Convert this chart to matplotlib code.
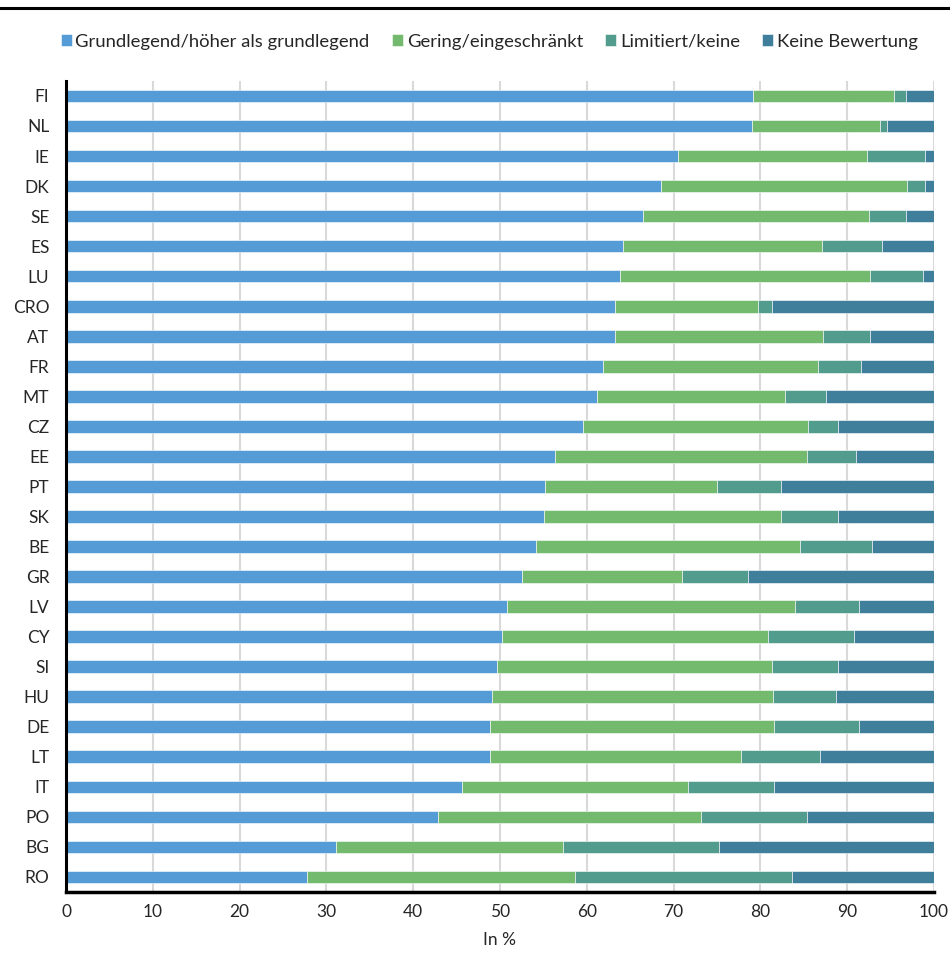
import matplotlib.pyplot as plt
from matplotlib.lines import Line2D
import numpy as np

countries = ['FI', 'NL', 'IE', 'DK', 'SE', 'ES', 'LU', 'CRO', 'AT', 'FR', 'MT', 'CZ', 'EE', 'PT',
             'SK', 'BE', 'GR', 'LV', 'CY', 'SI', 'HU', 'DE', 'LT', 'IT', 'PO', 'BG', 'RO']

grundlegend = [79.2, 79.0, 70.5, 68.6, 66.5, 64.2, 63.8, 63.3, 63.3, 61.9, 61.2, 59.6, 56.3, 55.2,
               55.1, 54.2, 52.5, 50.8, 50.2, 49.7, 49.1, 48.9, 48.8, 45.6, 42.9, 31.1, 27.8]
gering = [16.2, 14.8, 21.8, 28.3, 26.0, 22.9, 28.8, 16.4, 23.9, 24.7, 21.6, 25.9, 29.1, 19.8,
          27.3, 30.4, 18.5, 33.2, 30.7, 31.7, 32.4, 32.7, 29.0, 26.1, 30.3, 26.2, 30.8]
limitiert = [1.4, 0.8, 6.7, 2.1, 4.3, 6.9, 6.2, 1.6, 5.5, 5.0, 4.8, 3.5, 5.6, 7.4,
             6.6, 8.3, 7.6, 7.4, 9.9, 7.6, 7.2, 9.8, 9.1, 9.9, 12.2, 18.0, 25.0]
keine = [3.2, 5.4, 1.0, 1.0, 3.2, 6.0, 1.2, 18.7, 7.3, 8.4, 12.4, 11.0, 9.0, 17.6,
         11.0, 7.1, 21.4, 8.6, 9.2, 11.0, 11.3, 8.6, 13.1, 18.4, 14.6, 24.7, 16.4]

series = [
    ('Grundlegend/höher als grundlegend', grundlegend, '#559BD6'),
    ('Gering/eingeschränkt', gering, '#74BA6E'),
    ('Limitiert/keine', limitiert, '#529C8E'),
    ('Keine Bewertung', keine, '#3F7F9B'),
]

plt.rcParams['font.family'] = ['Lato', 'DejaVu Sans']

fig = plt.figure(figsize=(9.5, 9.69), dpi=100)
ax = fig.add_axes([0.0695, 0.0795, 0.9135, 0.837])

y = np.arange(len(countries))
left = np.zeros(len(countries))
for label, vals, color in series:
    vals = np.array(vals)
    ax.barh(y, vals, left=left, height=0.42, color=color, edgecolor='white',
            linewidth=0.4, label=label, zorder=3)
    left += vals

ax.set_xlim(0, 100)
ax.set_ylim(len(countries) - 0.5, -0.5)
ax.set_yticks(y)
ax.set_yticklabels(countries, fontsize=12.5, color='#262626')
ax.set_xticks(range(0, 101, 10))
ax.tick_params(axis='x', labelsize=12.5, colors='#262626', length=0, pad=9)
ax.tick_params(axis='y', length=0, pad=12)
ax.grid(axis='x', color='#D9D9D9', linewidth=1.5, zorder=0)
ax.set_axisbelow(True)

for side in ['top', 'right']:
    ax.spines[side].set_visible(False)
ax.spines['left'].set_linewidth(2.2)
ax.spines['bottom'].set_linewidth(2.5)
ax.spines['left'].set_zorder(5)
ax.spines['bottom'].set_zorder(5)

ax.set_xlabel('In %', fontsize=12.5, color='#262626', labelpad=8)

fig.legend(loc='center', bbox_to_anchor=(0.515, 0.957), ncol=4, frameon=False,
           fontsize=13.3, handlelength=0.6, handleheight=0.6, handletextpad=0.2,
           columnspacing=1.2, labelcolor='#262626')

fig.add_artist(Line2D([0.0, 1.0], [1 - 8 / 969, 1 - 8 / 969], color='black',
                      linewidth=2.2, transform=fig.transFigure))

fig.savefig('out.png', dpi=100)
